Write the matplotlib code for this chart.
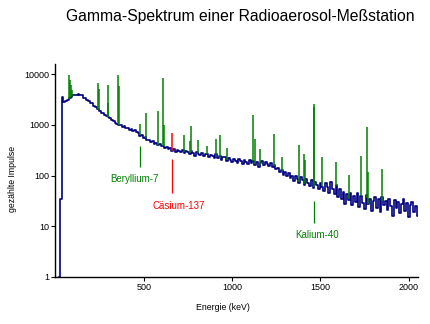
import numpy as np
import matplotlib
matplotlib.use("Agg")
import matplotlib.pyplot as plt
from matplotlib.ticker import FixedLocator, NullLocator

plt.rcParams['font.family'] = ['Liberation Sans', 'DejaVu Sans']

# spectrum counts, one value per 10 keV channel starting at 20 keV
counts = (
    [1, 35, 3500, 2800, 2950, 3150, 3350, 3600, 3800, 3900]
    + [3950, 4050, 3850, 3800, 3450, 3350, 3050, 2950, 2700, 2650]
    + [2400, 2300, 2050, 1900, 1720, 1680, 1540, 1480, 1400, 1370]
    + [1250, 1210, 1110, 1060, 990, 985, 915, 930, 865, 880]
    + [805, 825, 770, 790, 720, 700, 610, 625, 545, 565]
    + [495, 505, 455, 475, 425, 440, 395, 415, 375, 390]
    + [352, 360, 330, 345, 300, 338, 292, 325, 310, 296]
    + [318, 276, 305, 290, 262, 300, 280, 248, 295, 268]
    + [255, 280, 238, 262, 270, 232, 258, 245, 225, 262]
    + [218, 240, 205, 236, 228, 195, 222, 200, 188, 214]
    + [190, 178, 212, 196, 170, 205, 182, 168, 200, 176]
    + [192, 160, 188, 150, 178, 196, 158, 185, 170, 152]
    + [175, 148, 160, 132, 142, 118, 128, 104, 120, 96]
    + [112, 88, 100, 78, 96, 85, 70, 92, 80, 66]
    + [84, 72, 62, 80, 58, 74, 66, 55, 72, 60]
    + [50, 72, 60, 45, 74, 54, 44, 66, 38, 55]
    + [34, 48, 28, 44, 33, 46, 26, 40, 30, 45]
    + [24, 40, 29, 22, 42, 27, 35, 20, 31, 38]
    + [23, 34, 19, 37, 26, 32, 21, 35, 25, 16]
    + [33, 23, 30, 18, 27, 34, 20, 29, 15, 26]
    + [30, 19, 25, 16]
)
energy = np.arange(20, 20 + 10 * len(counts), 10)

# natural peaks (green)
peak_kev = [75, 80, 87, 93, 239, 244, 295, 300, 352, 357, 477, 511, 583, 609,
            614, 727, 763, 768, 806, 860, 911, 934, 969, 1120, 1127, 1155,
            1238, 1281, 1377, 1408, 1415, 1461, 1466, 1509, 1588, 1661, 1730,
            1764, 1770, 1847]
peak_counts = [9600, 7500, 6000, 4800, 6600, 5000, 6100, 2700, 9600, 5800,
               1050, 1700, 1900, 8400, 1000, 620, 480, 950, 500, 385, 520,
               620, 345, 1570, 520, 330, 660, 230, 400, 270, 200, 2600, 2300,
               230, 185, 103, 243, 920, 120, 135]

# Cs-137 peak (red)
cs_kev = 662
cs_counts = 680

# annotations: label, energy of marker line, line range, label position, colour
labels = ["Beryllium-7", "Cäsium-137", "Kalium-40"]
label_line_kev = [477, 662, 1466]
label_line_lo = [146, 46, 11.4]
label_line_hi = [390, 212, 31.6]
label_x = [446, 699, 1482]
label_y = [86, 25, 6.7]
label_colors = ["#008000", "#ff0000", "#008000"]

W, H = 431, 324
fig = plt.figure(figsize=(W / 100, H / 100), dpi=100)
ax = fig.add_axes([55.5 / W, (H - 277) / H, (418 - 55.5) / W, (277 - 64) / H])

ax.plot(energy, counts, drawstyle='steps-mid', color='#000080', lw=1.2)

base = np.interp(peak_kev, energy, counts)
ax.vlines(peak_kev, base, peak_counts, color='#008000', lw=1.1)
ax.vlines(cs_kev, np.interp(cs_kev, energy, counts), cs_counts,
          color='#ff0000', lw=1.1)

for i in range(len(labels)):
    c = label_colors[i]
    ax.vlines(label_line_kev[i], label_line_lo[i], label_line_hi[i], color=c, lw=0.9)
    ax.text(label_x[i], label_y[i], labels[i], color=c, fontsize=7,
            ha='center', va='center')

ax.set_yscale('log')
ax.set_xlim(0, 2052)
ax.set_ylim(1, 15850)
ax.yaxis.set_major_locator(FixedLocator([1, 10, 100, 1000, 10000]))
ax.yaxis.set_minor_locator(NullLocator())
ax.set_yticklabels(["1", "10", "100", "1000", "10000"])
ax.set_xticks([500, 1000, 1500, 2000])

for s in ['top', 'right']:
    ax.spines[s].set_visible(False)
for s in ['left', 'bottom']:
    ax.spines[s].set_linewidth(1.0)
ax.tick_params(direction='out', length=3, width=0.8, labelsize=6.5, pad=1.5)

fig.text(240.7 / W, 1 - 17 / H, "Gamma-Spektrum einer Radioaerosol-Meßstation",
         fontsize=11.3, ha='center', va='center')
fig.text(223 / W, 1 - 308 / H, "Energie (keV)", fontsize=6.3,
         ha='center', va='center')
fig.text(12.5 / W, 1 - 179 / H, "gezählte Impulse", fontsize=6.3,
         ha='center', va='center', rotation=90)

fig.savefig("out.png", dpi=100)
